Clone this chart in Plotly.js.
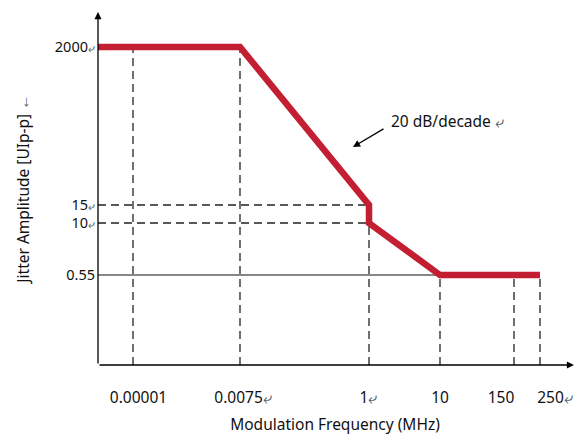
<!DOCTYPE html>
<html><head><meta charset="utf-8">
<script src="https://cdn.plot.ly/plotly-3.0.1.min.js"></script>
<style>html,body{margin:0;padding:0;background:#fff}</style>
</head><body><div id="chart" style="width:574px;height:435px"></div>
<script>
// ---- data ----
const freqLabels = ['0.00001', '0.0075', '1', '10', '150', '250'];
const freqCurl   = [false, true, true, false, false, true];
const ampLabels  = ['2000', '15', '10', '0.55'];
const ampCurl    = [true, true, true, false];
// jitter tolerance mask: [frequency label, amplitude label] (null = axis start)
const maskFreq = [null, '0.0075', '1', '1', '10', '250'];
const maskAmp  = ['2000', '2000', '15', '10', '0.55', '0.55'];
const slopeLabel = '20 dB/decade';

// ---- schematic (non-linear) axis placement ----
const freqPos      = [3.5, 14.2, 27.1, 34.2, 41.6, 44.2];
const freqLabelPos = [4.05, 14.5, 27.05, 34.2, 40.3, 45.7];
const ampPos       = [31.8, 16.0, 14.2, 9.0];
const X0 = 0, XMAX = 47.4, Y0 = 0, YMAX = 35.3;

const FONT = 'Noto Sans';
const FS = 15.5;
const fx = l => l === null ? X0 : freqPos[freqLabels.indexOf(l)];
const ay = l => ampPos[ampLabels.indexOf(l)];
const curl = sz => '<span style="color:#52616e;font-size:' + sz + 'px">⤶</span>';

const trace = {
  x: maskFreq.map(fx), y: maskAmp.map(ay),
  type: 'scatter', mode: 'lines',
  line: {color: '#C41E32', width: 6.5},
  hoverinfo: 'skip', showlegend: false, cliponaxis: false
};

const dash = {color: '#222', width: 1.3, dash: '8px,5px'};
const shapes = [];
const topOf = {'0.00001': '2000', '0.0075': '2000', '1': '15', '10': '0.55', '150': '0.55', '250': '0.55'};
freqLabels.forEach(f => {
  shapes.push({type: 'line', layer: 'below', xref: 'x', yref: 'y',
    x0: fx(f), x1: fx(f), y0: Y0, y1: ay(topOf[f]), line: dash});
});
['15', '10'].forEach(a => {
  shapes.push({type: 'line', layer: 'below', xref: 'x', yref: 'y',
    x0: X0, x1: fx('1'), y0: ay(a), y1: ay(a), line: dash});
});
shapes.push({type: 'line', layer: 'below', xref: 'x', yref: 'y',
  x0: X0, x1: fx('10'), y0: ay('0.55'), y1: ay('0.55'), line: {color: '#111', width: 1.2}});

const annotations = [
  {x: X0, y: YMAX, ax: X0, ay: Y0, xref: 'x', yref: 'y', axref: 'x', ayref: 'y',
   text: '', showarrow: true, arrowhead: 2, arrowsize: 1.1, arrowwidth: 1.3, arrowcolor: '#000', standoff: 0},
  {x: XMAX + 0.2, y: Y0, ax: X0, ay: Y0, xref: 'x', yref: 'y', axref: 'x', ayref: 'y',
   text: '', showarrow: true, arrowhead: 2, arrowsize: 1.1, arrowwidth: 1.3, arrowcolor: '#000', standoff: 0},
  {x: 34.9, y: 24.4, xref: 'x', yref: 'y', text: slopeLabel + ' ' + curl(16), showarrow: false,
   font: {family: FONT, size: FS, color: '#111'}},
  {x: 25.5, y: 21.8, ax: 28.7, ay: 23.7, xref: 'x', yref: 'y', axref: 'x', ayref: 'y',
   text: '', showarrow: true, arrowhead: 2, arrowsize: 1.1, arrowwidth: 1.3, arrowcolor: '#000', standoff: 0}
];

const layout = {
  width: 574, height: 435,
  margin: {l: 98, r: 2, t: 12, b: 70},
  paper_bgcolor: '#fff', plot_bgcolor: '#fff',
  font: {family: FONT, size: FS, color: '#111'},
  xaxis: {
    range: [X0, XMAX], showgrid: false, zeroline: false, showline: false, ticks: '',
    tickmode: 'array', tickvals: freqLabelPos,
    ticktext: freqLabels.map((l, i) => freqCurl[i] ? l + curl(16) : l),
    ticklabelstandoff: 21, tickfont: {size: FS},
    title: {text: 'Modulation Frequency (MHz)', standoff: 13, font: {size: FS}},
    fixedrange: true
  },
  yaxis: {
    range: [Y0, YMAX], showgrid: false, zeroline: false, showline: false, ticks: '',
    tickmode: 'array', tickvals: ampPos,
    ticktext: ampLabels.map((l, i) => ampCurl[i] ? l + curl(12) : l),
    ticklabelstandoff: 2, tickfont: {size: 14.5},
    title: {text: 'Jitter Amplitude [UIp-p] ' + '<span style="color:#52616e">←</span>', standoff: 21, font: {size: FS}},
    fixedrange: true
  },
  shapes: shapes,
  annotations: annotations,
  showlegend: false
};

Plotly.newPlot('chart', [trace], layout, {displayModeBar: false, staticPlot: true});
</script></body></html>
